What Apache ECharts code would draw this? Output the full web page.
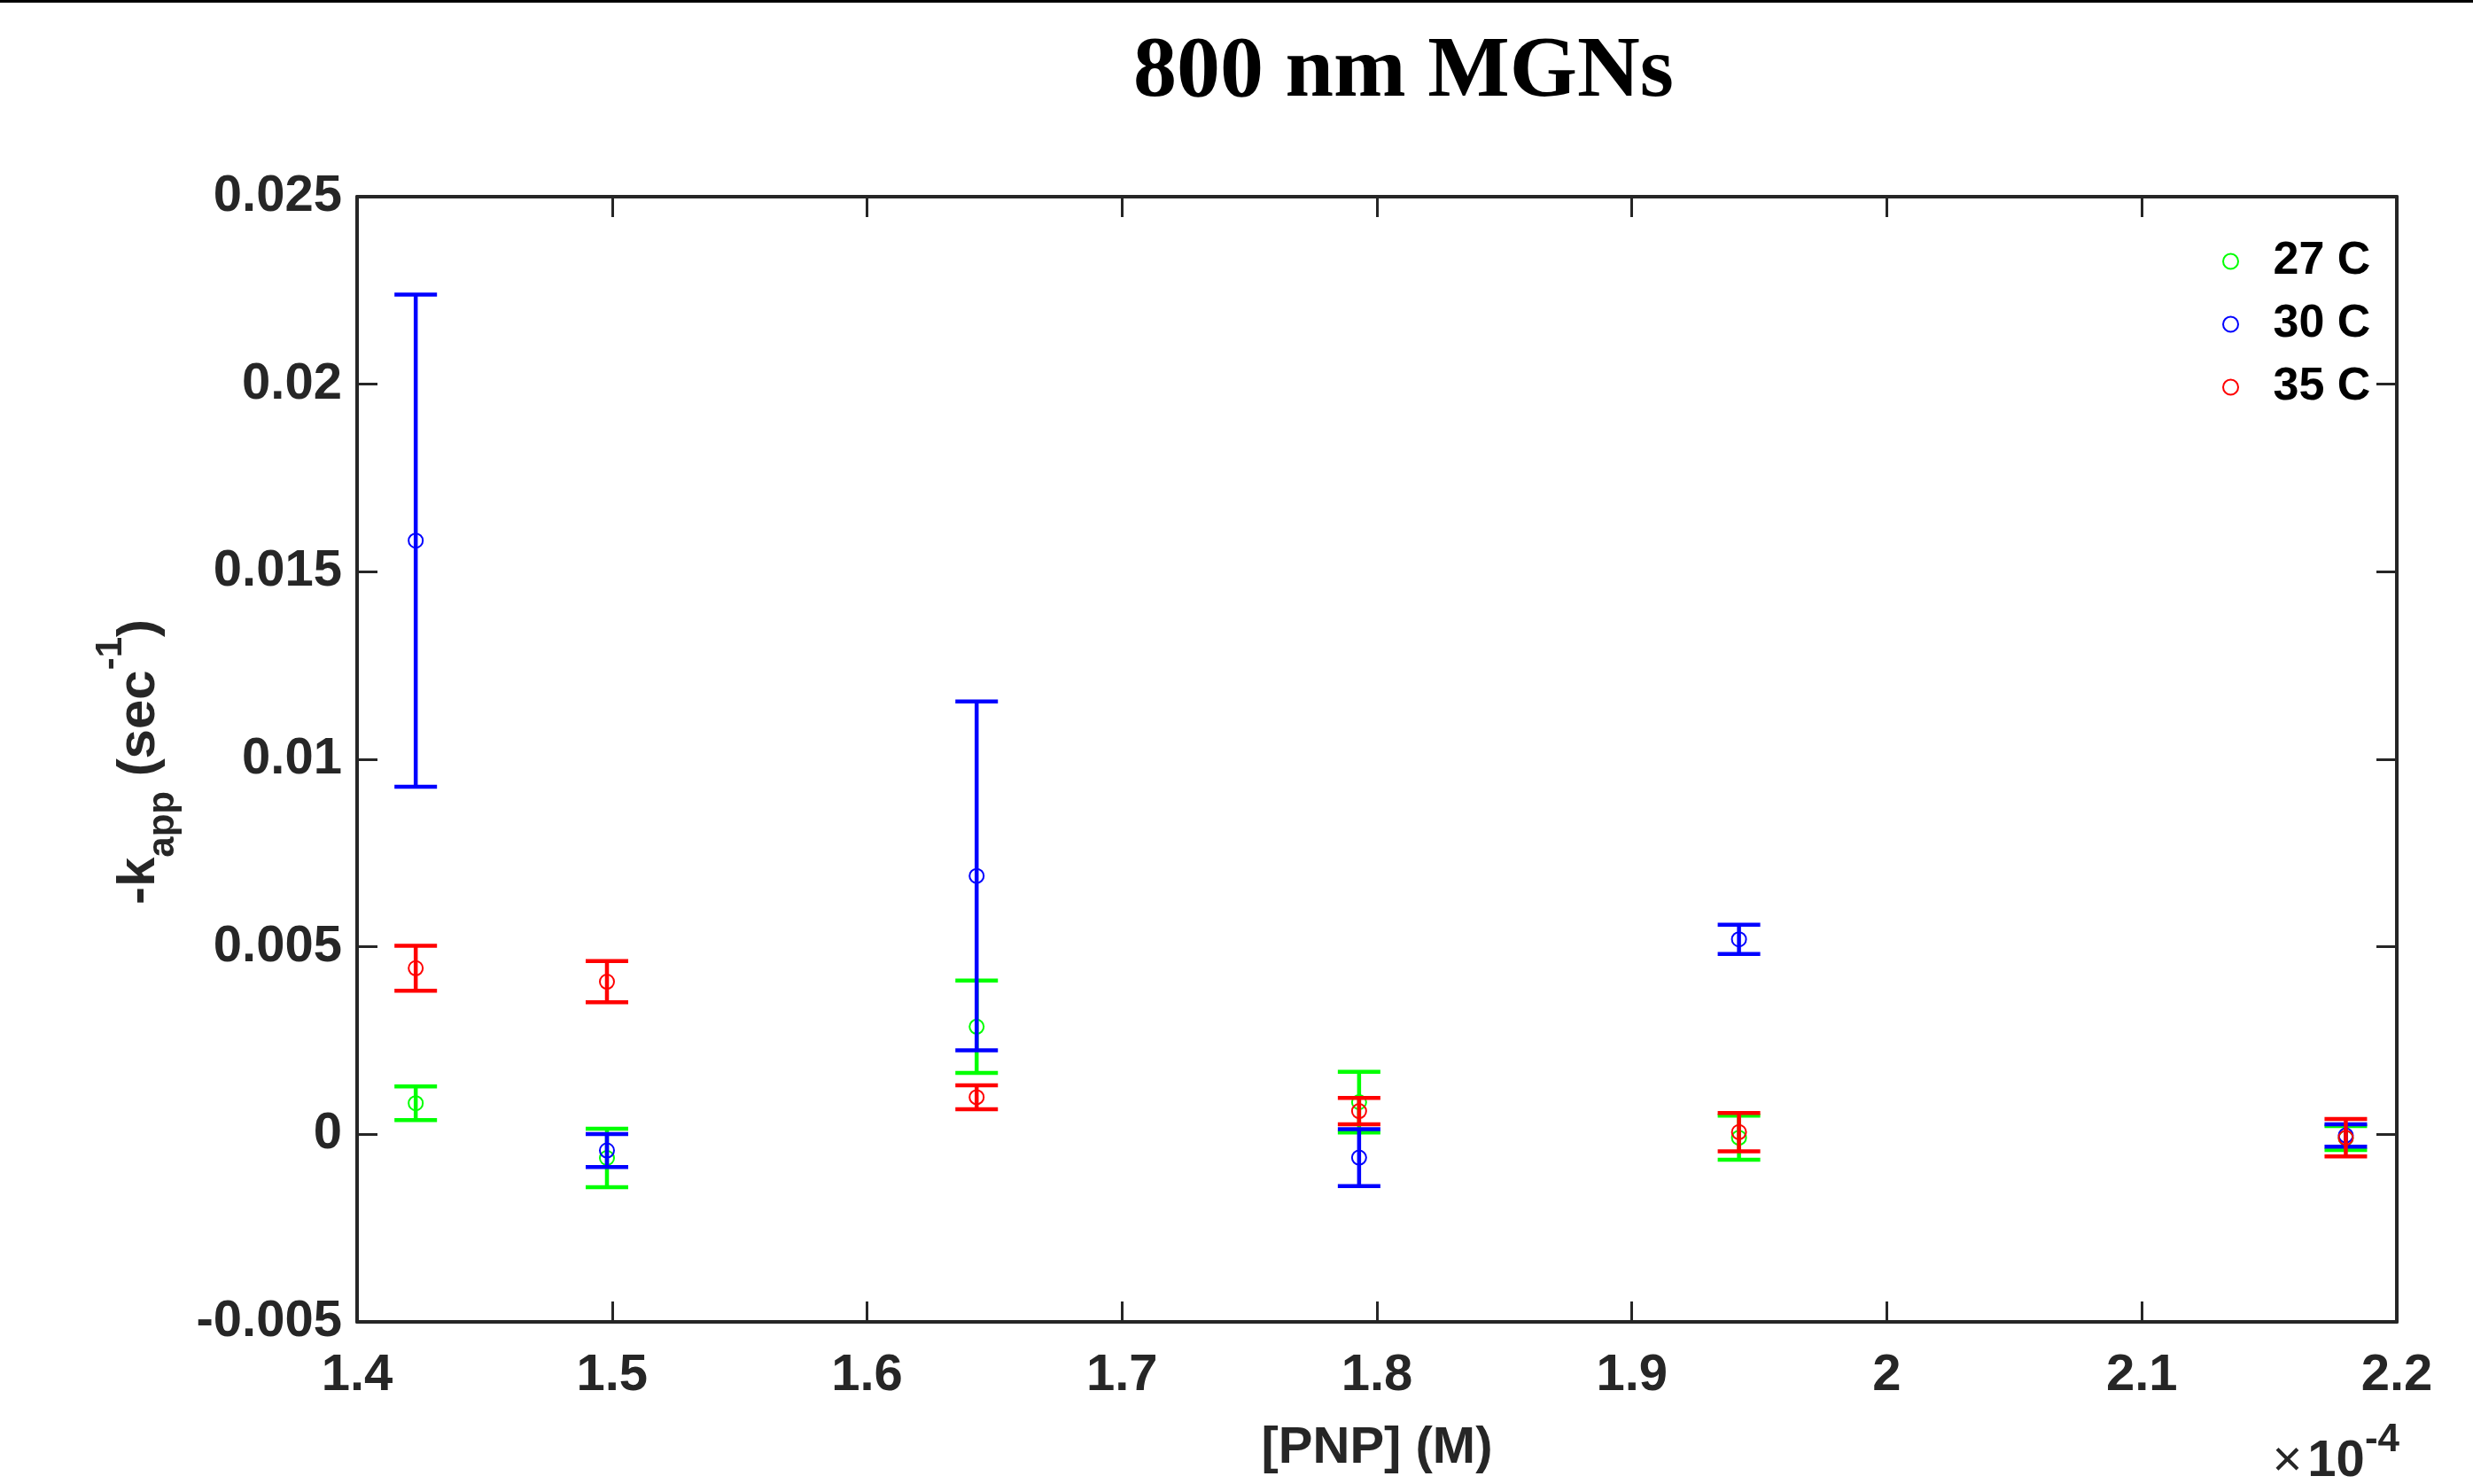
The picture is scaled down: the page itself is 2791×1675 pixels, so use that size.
<!DOCTYPE html>
<html>
<head>
<meta charset="utf-8">
<script src="https://cdn.jsdelivr.net/npm/echarts@6/dist/echarts.min.js"></script>
<style>html,body{margin:0;padding:0;background:#fff;}#c{width:2791px;height:1675px;}</style>
</head>
<body>
<div id="c"></div>
<script>
// [PNP] concentrations in units of 1e-4 M
const pnp = [1.423, 1.498, 1.643, 1.793, 1.942, 2.180];
const seriesNames = ['27 C', '30 C', '35 C'];
const k27 = [0.00083, -0.00063, 0.00287, 0.00086, -0.00009, -0.00010];
const e27 = [0.00045, 0.00078, 0.00123, 0.00081, 0.00059, 0.00032];
const k30 = [0.01583, -0.00043, 0.00689, -0.00062, 0.00520, -0.00003];
const e30 = [0.00656, 0.00044, 0.00465, 0.00076, 0.00039, 0.00030];
const k35 = [0.00443, 0.00407, 0.00099, 0.00062, 0.00006, -0.00009];
const e35 = [0.00060, 0.00055, 0.00032, 0.00035, 0.00051, 0.00050];
const yTicks = [-0.005, 0, 0.005, 0.01, 0.015, 0.02, 0.025];
const xTicks = [1.4, 1.5, 1.6, 1.7, 1.8, 1.9, 2.0, 2.1, 2.2];

const colors = ['#00ff00', '#0000ff', '#ff0000'];
const means = [k27, k30, k35];
const errs = [e27, e30, e35];
const FONT = 'Liberation Sans, Arial, Helvetica, sans-serif';
const AX = '#262626';

function makeRender(color) {
  return function (params, api) {
    const x = api.value(0), y = api.value(1), e = api.value(2);
    const pt = api.coord([x, y + e]);
    const pb = api.coord([x, y - e]);
    const pc = api.coord([x, y]);
    const hw = 24;
    const ls = {stroke: color, lineWidth: 4.5, fill: 'none'};
    return {
      type: 'group',
      children: [
        {type: 'line', shape: {x1: pt[0], y1: pt[1], x2: pb[0], y2: pb[1]}, style: ls},
        {type: 'line', shape: {x1: pt[0] - hw, y1: pt[1], x2: pt[0] + hw, y2: pt[1]}, style: ls},
        {type: 'line', shape: {x1: pb[0] - hw, y1: pb[1], x2: pb[0] + hw, y2: pb[1]}, style: ls},
        {type: 'circle', shape: {cx: pc[0], cy: pc[1], r: 8}, style: {stroke: color, lineWidth: 2, fill: 'none'}}
      ]
    };
  };
}

const series = seriesNames.map((name, s) => ({
  name: name,
  type: 'custom',
  xAxisIndex: 0,
  yAxisIndex: 0,
  itemStyle: {color: colors[s]},
  renderItem: makeRender(colors[s]),
  encode: {x: 0, y: 1},
  data: pnp.map((xv, i) => [xv, means[s][i], errs[s][i]]),
  clip: false
}));

const xMin = xTicks[0], xMax = xTicks[xTicks.length - 1];
const yMin = yTicks[0], yMax = yTicks[yTicks.length - 1];

const commonAxisLine = {show: true, onZero: false, lineStyle: {color: AX, width: 4}};
const commonTick = {show: true, inside: true, length: 23, lineStyle: {color: AX, width: 3}};

const option = {
  backgroundColor: '#ffffff',
  animation: false,
  title: {
    text: '800 nm MGNs',
    left: 1584,
    top: 34,
    textAlign: 'center',
    padding: 0,
    textStyle: {fontFamily: 'Liberation Serif, Times New Roman, serif', fontWeight: 'bold', fontSize: 98, color: '#000'}
  },
  grid: {left: 403, right: 2791 - 2705, top: 222, bottom: 1675 - 1492, containLabel: false},
  legend: {
    orient: 'vertical',
    left: 2508,
    top: 268,
    padding: 0,
    itemWidth: 86,
    itemHeight: 17,
    itemGap: 17,
    textStyle: {fontFamily: FONT, fontWeight: 'bold', fontSize: 52, lineHeight: 54, color: '#000'},
    data: seriesNames.map((n, s) => ({name: n, icon: 'emptyCircle'}))
  },
  xAxis: [
    {
      type: 'value', position: 'bottom', min: xMin, max: xMax, interval: 0.1,
      axisLine: commonAxisLine, axisTick: commonTick,
      splitLine: {show: false},
      axisLabel: {show: true, margin: 32, fontFamily: FONT, fontWeight: 'bold', fontSize: 58, color: AX,
        formatter: v => String(+v.toFixed(1))},
      name: '[PNP] (M)', nameLocation: 'middle', nameGap: 114,
      nameTextStyle: {fontFamily: FONT, fontWeight: 'bold', fontSize: 58, color: AX}
    },
    {
      type: 'value', position: 'top', min: xMin, max: xMax, interval: 0.1,
      axisLine: commonAxisLine, axisTick: commonTick,
      splitLine: {show: false}, axisLabel: {show: false}
    }
  ],
  yAxis: [
    {
      type: 'value', position: 'left', min: yMin, max: yMax, interval: 0.005,
      axisLine: commonAxisLine, axisTick: commonTick,
      splitLine: {show: false},
      axisLabel: {show: true, margin: 17, fontFamily: FONT, fontWeight: 'bold', fontSize: 58, color: AX,
        formatter: v => String(+v.toFixed(3))}
    },
    {
      type: 'value', position: 'right', min: yMin, max: yMax, interval: 0.005,
      axisLine: commonAxisLine, axisTick: commonTick,
      splitLine: {show: false}, axisLabel: {show: false}
    }
  ],
  graphic: [
    {type: 'rect', left: 0, top: 0, shape: {x: 0, y: 0, width: 2791, height: 3}, style: {fill: '#000'}, silent: true},
    {
      type: 'text', x: 157, y: 860, rotation: Math.PI / 2, silent: true,
      style: {
        text: '{m|-k}{s|app}{m| (sec}{p|-1}{m|)}',
        align: 'center', verticalAlign: 'middle', fill: AX,
        rich: {
          m: {fontFamily: FONT, fontWeight: 'bold', fontSize: 60, lineHeight: 60, fill: AX},
          s: {fontFamily: FONT, fontWeight: 'bold', fontSize: 42, lineHeight: 42, padding: [55, 0, 0, 0], fill: AX},
          p: {fontFamily: FONT, fontWeight: 'bold', fontSize: 42, lineHeight: 42, padding: [0, 0, 63, 0], fill: AX}
        }
      }
    },
    {
      type: 'text', x: 2708, y: 1650, silent: true,
      style: {
        text: '{x|×}{t|10}{p|-4}',
        align: 'right', verticalAlign: 'middle', fill: AX,
        rich: {
          x: {fontFamily: FONT, fontWeight: 'normal', fontSize: 58, lineHeight: 58, padding: [0, 6, 0, 0], fill: AX},
          t: {fontFamily: FONT, fontWeight: 'bold', fontSize: 58, lineHeight: 58, fill: AX},
          p: {fontFamily: FONT, fontWeight: 'bold', fontSize: 44, lineHeight: 44, padding: [0, 0, 48, 0], fill: AX}
        }
      }
    }
  ],
  series: series
};

const chart = echarts.init(document.getElementById('c'), null, {renderer: 'canvas', width: 2791, height: 1675});
chart.setOption(option);
</script>
</body>
</html>
